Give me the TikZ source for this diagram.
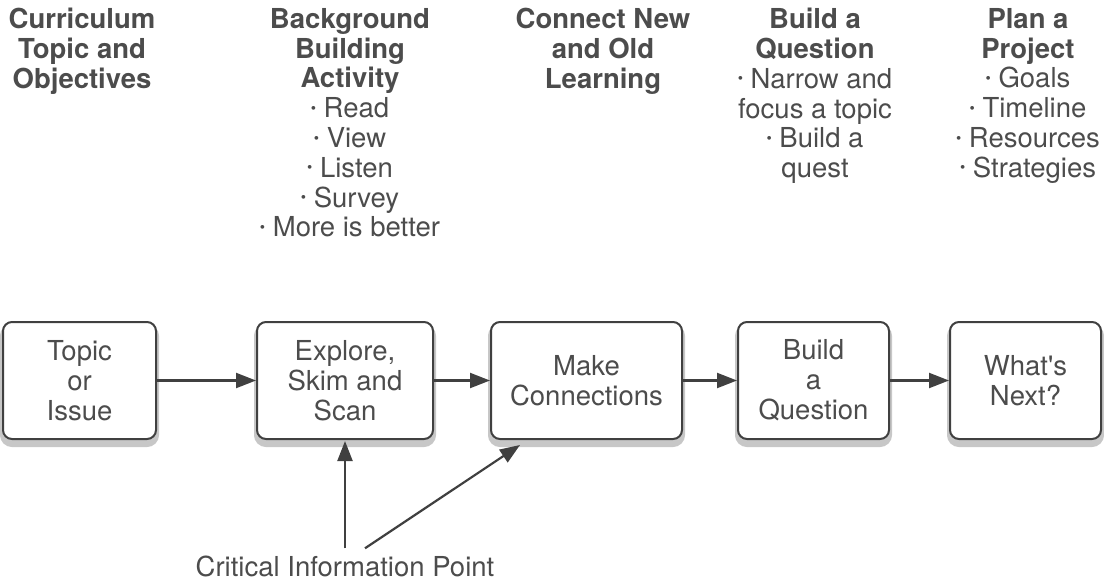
\documentclass[tikz,border=0pt]{standalone}
\usepackage{fontspec}
\setmainfont{TeX Gyre Heros}
\usetikzlibrary{arrows.meta}

\definecolor{ink}{gray}{0.25}
\definecolor{softink}{gray}{0.30}
\newcommand{\dotitem}{\raisebox{0.3ex}{\fontsize{15}{15}\selectfont•}~}

\begin{document}
\begin{tikzpicture}[x=1pt,y=-1pt,
    every node/.style={font=\fontsize{27.5}{29.8}\selectfont, text=softink},
    box/.style={draw=ink, line width=2pt, rounded corners=9pt, fill=white,
      align=center, inner sep=0pt, minimum height=117pt,
      preaction={draw=black!22, fill=black!22, line width=6pt, transform canvas={yshift=-5pt}}},
    flow/.style={draw=ink, line width=2.2pt, -{Triangle[length=20pt,width=15pt]}},
    head/.style={anchor=north, align=center, inner sep=0pt}]

            \useasboundingbox (0,0) rectangle (1104,582);

            % column headings
            \node[head] (curriculum) at (82,8) {\textbf{Curriculum}\\\textbf{Topic and}\\\textbf{Objectives}};
            \node[head] (background) at (350,8) {\textbf{Background}\\\textbf{Building}\\\textbf{Activity}\\\dotitem Read\\\dotitem View\\\dotitem Listen\\\dotitem Survey\\\dotitem More is better};
            \node[head] (connectnew) at (603,8) {\textbf{Connect New}\\\textbf{and Old}\\\textbf{Learning}};
            \node[head] (buildq) at (815,8) {\textbf{Build a}\\\textbf{Question}\\\dotitem Narrow and\\focus a topic\\\dotitem Build a\\quest};
            \node[head] (planproj) at (1028,8) {\textbf{Plan a}\\\textbf{Project}\\\dotitem Goals\\\dotitem Timeline\\\dotitem Resources\\\dotitem Strategies};

            % steps
            \node[box, minimum width=153pt] (topic) at (79.5,380.5) {Topic\\or\\Issue};
            \node[box, minimum width=176pt] (explore) at (345,380.5) {Explore,\\Skim and\\Scan};
            \node[box, minimum width=191pt] (makecon) at (586.5,380.5) {Make\\Connections};
            \node[box, minimum width=151pt] (question) at (813.5,380.5) {Build\\a\\Question};
            \node[box, minimum width=151pt] (whatsnext) at (1025.5,380.5) {What\textquotesingle s\\Next?};

            \draw[flow] (topic) -- (explore);
            \draw[flow] (explore) -- (makecon);
            \draw[flow] (makecon) -- (question);
            \draw[flow] (question) -- (whatsnext);

            \node[inner sep=3pt] (cip) at (345,566) {Critical Information Point};
            \draw[flow] ([yshift=4pt]cip.north) -- ([yshift=-1pt]explore.south);
            \draw[flow] ([xshift=20pt,yshift=4pt]cip.north) -- ([xshift=30pt,yshift=-5pt]makecon.south west);

          \end{tikzpicture}
\end{document}
